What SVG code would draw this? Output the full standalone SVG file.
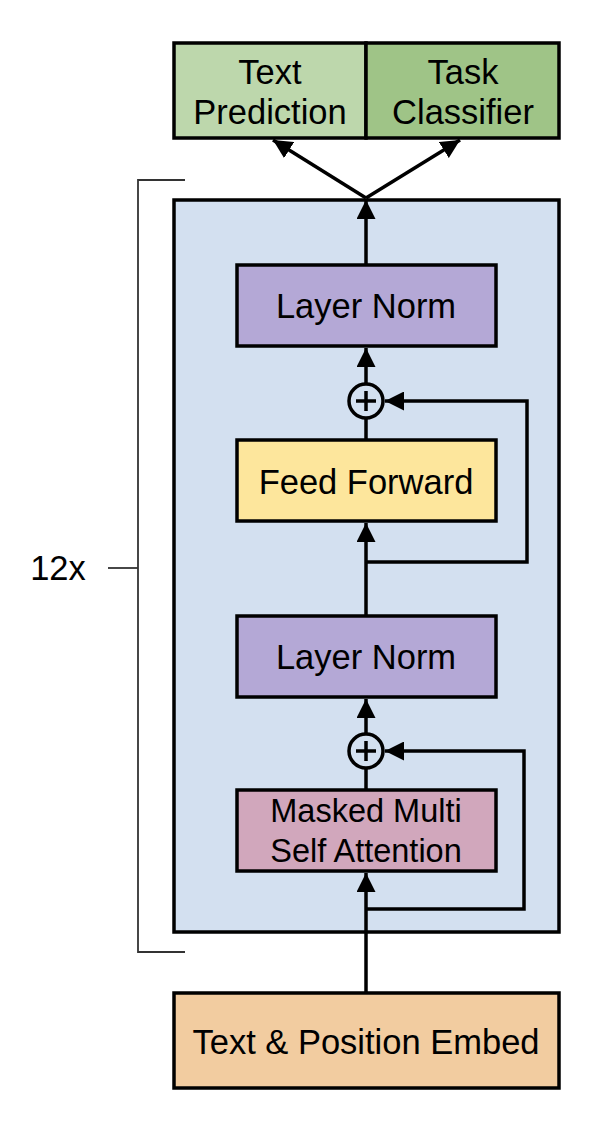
<svg xmlns="http://www.w3.org/2000/svg" width="596" height="1126" viewBox="0 0 596 1126">
<style>
.box{stroke:#000;stroke-width:3.5}
.t{font-family:"Liberation Sans",Arial,sans-serif;font-size:34.5px;fill:#000;text-anchor:middle}
.s{font-size:32.5px}
.ln{stroke:#000;stroke-width:3.5;fill:none}
.thin{stroke:#333;stroke-width:1.8;fill:none}
</style>
<defs>
<marker id="ah" viewBox="0 0 10 10" refX="10" refY="5" markerWidth="19" markerHeight="19" markerUnits="userSpaceOnUse" orient="auto">
<path d="M0,0 L10,5 L0,10 Z" fill="#000"/>
</marker>
</defs>
<rect width="596" height="1126" fill="#fff"/>
<g id="bracket">
<path class="thin" d="M185,180 H138 V952 H185"/>
<path class="thin" d="M108,568 H138"/>
<text class="t" x="58" y="580">12x</text>
</g>
<g id="block">
<rect class="box" x="174" y="200" width="385" height="732" fill="#d3e0f0"/>
</g>
<g id="text-prediction">
<rect class="box" x="174" y="43" width="192" height="95" fill="#bdd7ac"/>
<text class="t" x="270" y="84">Text</text>
<text class="t" x="270" y="124">Prediction</text>
</g>
<g id="task-classifier">
<rect class="box" x="366" y="43" width="193" height="95" fill="#9fc487"/>
<text class="t" x="463" y="84">Task</text>
<text class="t" x="463" y="124">Classifier</text>
</g>
<g id="layer-norm-1">
<rect class="box" x="237" y="265" width="259" height="81" fill="#b4a8d6"/>
<text class="t" x="366" y="318">Layer Norm</text>
</g>
<g id="add-1">
<circle class="ln" cx="366" cy="401" r="17" fill="#d3e0f0"/>
<path class="ln" d="M356,401 H376 M366,391 V411"/>
</g>
<g id="feed-forward">
<rect class="box" x="237" y="440" width="259" height="81" fill="#fde69c"/>
<text class="t" x="366" y="494">Feed Forward</text>
</g>
<g id="layer-norm-2">
<rect class="box" x="237" y="616" width="259" height="81" fill="#b4a8d6"/>
<text class="t" x="366" y="669">Layer Norm</text>
</g>
<g id="add-2">
<circle class="ln" cx="366" cy="751" r="17" fill="#d3e0f0"/>
<path class="ln" d="M356,751 H376 M366,741 V761"/>
</g>
<g id="masked-attention">
<rect class="box" x="237" y="790" width="259" height="81" fill="#d1a7bc"/>
<text class="t s" x="366" y="822">Masked Multi</text>
<text class="t s" x="366" y="862">Self Attention</text>
</g>
<g id="embed">
<rect class="box" x="174" y="993" width="385" height="95" fill="#f2cca0"/>
<text class="t" x="366" y="1054">Text &amp; Position Embed</text>
</g>
<g id="connectors">
<path class="ln" d="M366,993 V873" marker-end="url(#ah)"/>
<path class="ln" d="M366,909 H524 V751 H385" marker-end="url(#ah)"/>
<path class="ln" d="M366,790 V768"/>
<path class="ln" d="M366,734 V699" marker-end="url(#ah)"/>
<path class="ln" d="M366,616 V523" marker-end="url(#ah)"/>
<path class="ln" d="M366,562 H527 V401 H385" marker-end="url(#ah)"/>
<path class="ln" d="M366,440 V418"/>
<path class="ln" d="M366,384 V348" marker-end="url(#ah)"/>
<path class="ln" d="M366,265 V200" marker-end="url(#ah)"/>
<path class="ln" d="M366,198 L273,140" marker-end="url(#ah)"/>
<path class="ln" d="M366,198 L460,140" marker-end="url(#ah)"/>
</g>
</svg>
